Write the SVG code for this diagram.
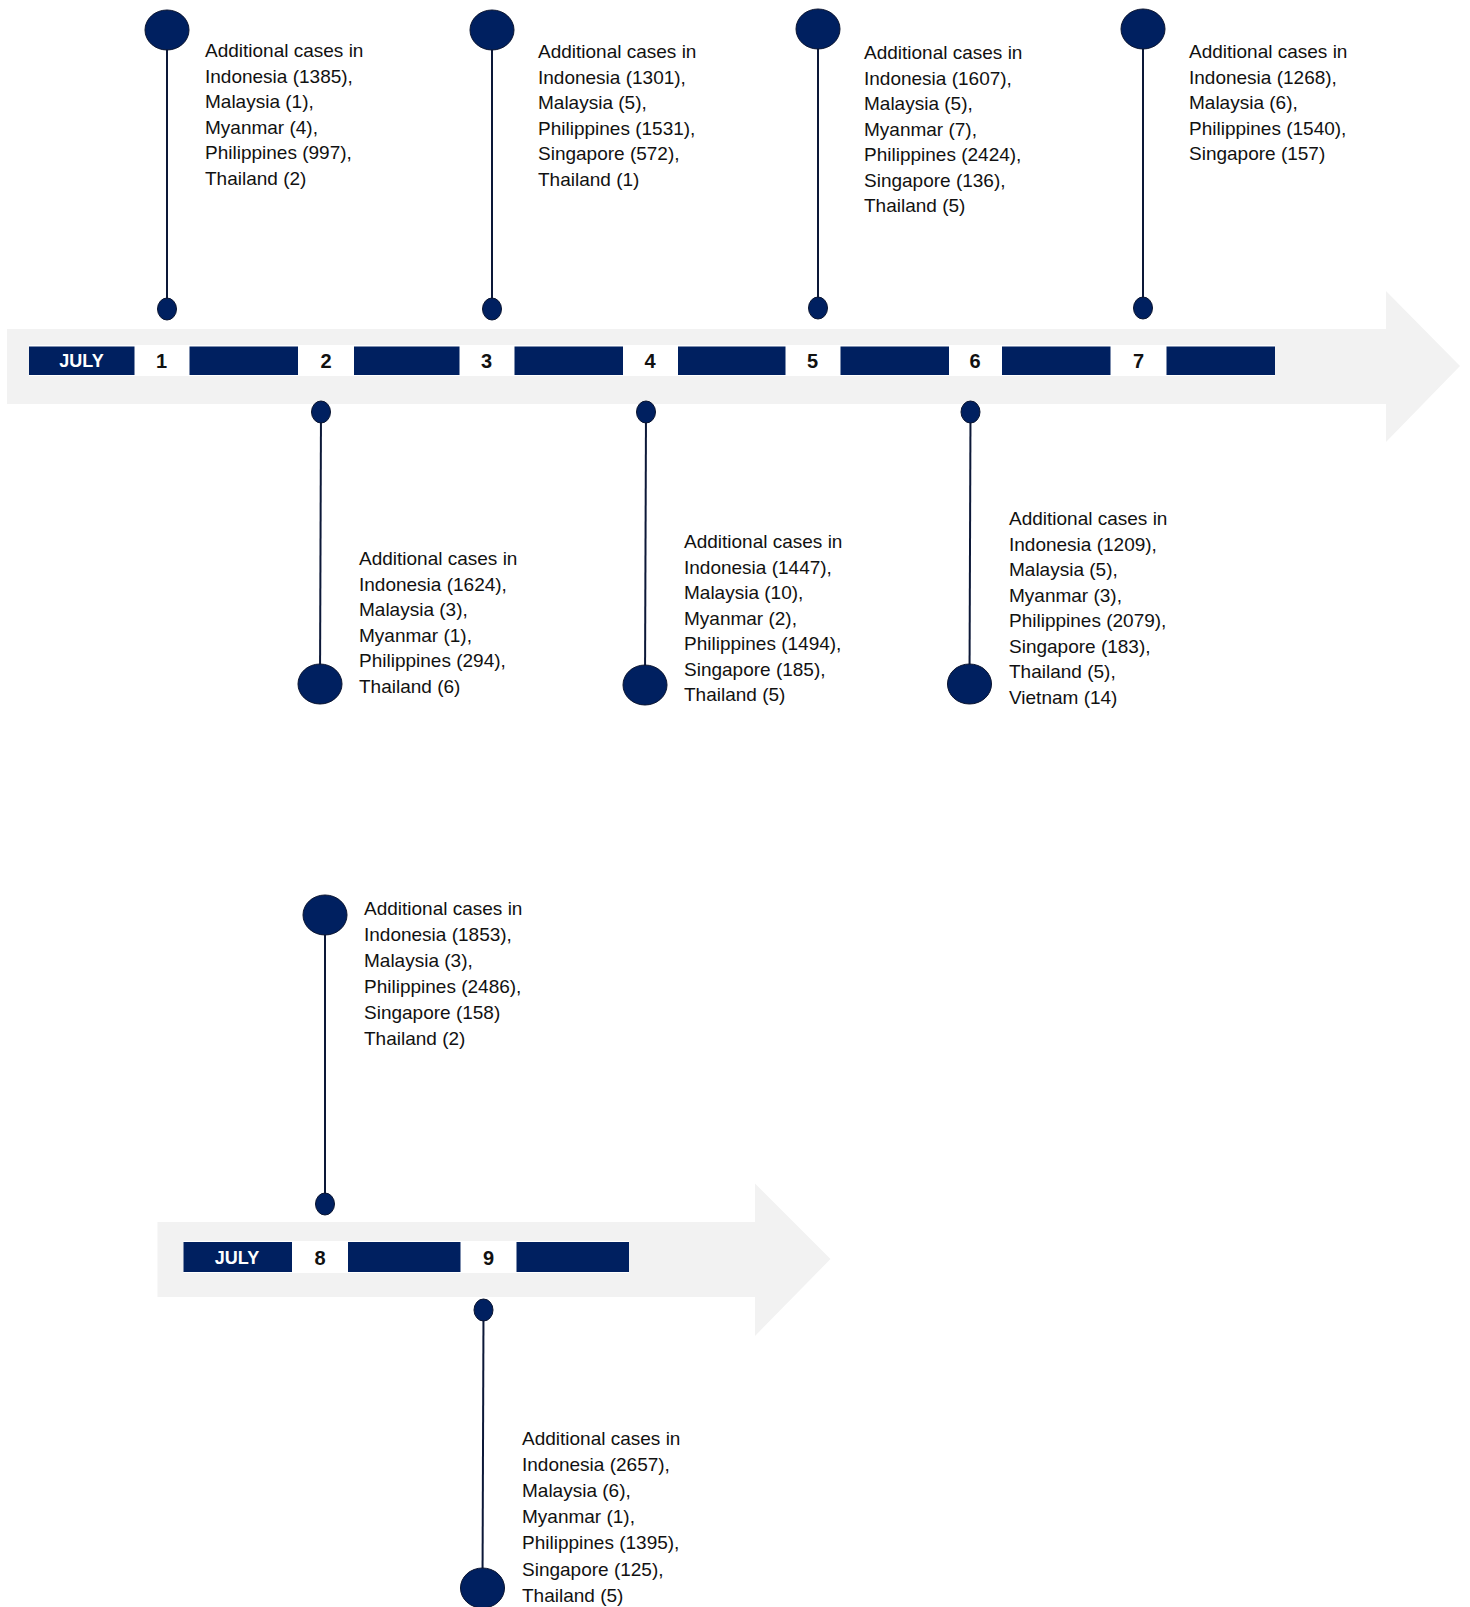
<svg xmlns="http://www.w3.org/2000/svg" width="1470" height="1607" viewBox="0 0 1470 1607">
<style>
.arrow{fill:#f2f2f2}
.cell{fill:#ffffff}
.bar{fill:#002060}
.month{font-family:"Liberation Sans",Arial,sans-serif;font-weight:bold;font-size:18px;fill:#ffffff;text-anchor:middle}
.num{font-family:"Liberation Sans",Arial,sans-serif;font-weight:bold;font-size:20px;fill:#111111;text-anchor:middle}
.stem{stroke:#0c1838;stroke-width:2;fill:none}
.dot{fill:#002060;stroke:#0a1430;stroke-width:1}
.txt{font-family:"Liberation Sans",Arial,sans-serif;font-size:19px;fill:#111111}
</style>
<rect width="1470" height="1607" fill="#ffffff"/>

<g id="timeline-1">
<polygon class="arrow" points="7,329 1386,329 1386,291 1460,366 1386,442 1386,404 7,404"/>
<rect class="cell" x="29" y="345" width="1246" height="31"/>
<rect class="bar" x="29" y="346.5" width="105.5" height="28.5"/>
<text class="month" x="81.5" y="367">JULY</text>
<text class="num" x="161.5" y="368">1</text>
<rect class="bar" x="189.5" y="346.5" width="108.5" height="28.5"/>
<text class="num" x="326" y="368">2</text>
<rect class="bar" x="354" y="346.5" width="105.5" height="28.5"/>
<text class="num" x="486.5" y="368">3</text>
<rect class="bar" x="514.5" y="346.5" width="108.5" height="28.5"/>
<text class="num" x="650" y="368">4</text>
<rect class="bar" x="678" y="346.5" width="107.5" height="28.5"/>
<text class="num" x="812.5" y="368">5</text>
<rect class="bar" x="840.5" y="346.5" width="108.5" height="28.5"/>
<text class="num" x="975" y="368">6</text>
<rect class="bar" x="1002" y="346.5" width="108.5" height="28.5"/>
<text class="num" x="1138.5" y="368">7</text>
<rect class="bar" x="1166.5" y="346.5" width="108.5" height="28.5"/>
</g>

<g id="timeline-2">
<polygon class="arrow" points="157.5,1222 755,1222 755,1183.5 830.5,1259 755,1336 755,1297 157.5,1297"/>
<rect class="cell" x="183.5" y="1241" width="445.5" height="32"/>
<rect class="bar" x="183.5" y="1242" width="108.5" height="30"/>
<text class="month" x="237" y="1264">JULY</text>
<text class="num" x="320" y="1265">8</text>
<rect class="bar" x="348" y="1242" width="112.5" height="30"/>
<text class="num" x="488.5" y="1265">9</text>
<rect class="bar" x="516.5" y="1242" width="112.5" height="30"/>
</g>

<g id="connectors">
<line class="stem" x1="167" y1="30" x2="167" y2="309"/>
<line class="stem" x1="492" y1="30" x2="492" y2="309"/>
<line class="stem" x1="818" y1="29" x2="818" y2="308"/>
<line class="stem" x1="1143" y1="29" x2="1143" y2="308"/>
<line class="stem" x1="321" y1="412" x2="320" y2="684"/>
<line class="stem" x1="646" y1="412" x2="645" y2="685"/>
<line class="stem" x1="970.5" y1="412" x2="969.5" y2="684"/>
<line class="stem" x1="325" y1="915" x2="325" y2="1204"/>
<line class="stem" x1="483.5" y1="1310" x2="482.5" y2="1588"/>
</g>

<g id="pin-jul1">
<ellipse class="dot" cx="167" cy="30" rx="22" ry="20"/>
<ellipse class="dot" cx="167" cy="309" rx="9.5" ry="11"/>
<text class="txt" x="205" y="57"><tspan x="205">Additional cases in</tspan><tspan x="205" dy="25.5">Indonesia (1385),</tspan><tspan x="205" dy="25.5">Malaysia (1),</tspan><tspan x="205" dy="25.5">Myanmar (4),</tspan><tspan x="205" dy="25.5">Philippines (997),</tspan><tspan x="205" dy="25.5">Thailand (2)</tspan></text>
</g>

<g id="pin-jul2">
<ellipse class="dot" cx="321" cy="412" rx="9.5" ry="11"/>
<ellipse class="dot" cx="320" cy="684" rx="22" ry="20"/>
<text class="txt" x="359" y="565"><tspan x="359">Additional cases in</tspan><tspan x="359" dy="25.5">Indonesia (1624),</tspan><tspan x="359" dy="25.5">Malaysia (3),</tspan><tspan x="359" dy="25.5">Myanmar (1),</tspan><tspan x="359" dy="25.5">Philippines (294),</tspan><tspan x="359" dy="25.5">Thailand (6)</tspan></text>
</g>

<g id="pin-jul3">
<ellipse class="dot" cx="492" cy="30" rx="22" ry="20"/>
<ellipse class="dot" cx="492" cy="309" rx="9.5" ry="11"/>
<text class="txt" x="538" y="58"><tspan x="538">Additional cases in</tspan><tspan x="538" dy="25.5">Indonesia (1301),</tspan><tspan x="538" dy="25.5">Malaysia (5),</tspan><tspan x="538" dy="25.5">Philippines (1531),</tspan><tspan x="538" dy="25.5">Singapore (572),</tspan><tspan x="538" dy="25.5">Thailand (1)</tspan></text>
</g>

<g id="pin-jul4">
<ellipse class="dot" cx="646" cy="412" rx="9.5" ry="11"/>
<ellipse class="dot" cx="645" cy="685" rx="22" ry="20"/>
<text class="txt" x="684" y="548"><tspan x="684">Additional cases in</tspan><tspan x="684" dy="25.5">Indonesia (1447),</tspan><tspan x="684" dy="25.5">Malaysia (10),</tspan><tspan x="684" dy="25.5">Myanmar (2),</tspan><tspan x="684" dy="25.5">Philippines (1494),</tspan><tspan x="684" dy="25.5">Singapore (185),</tspan><tspan x="684" dy="25.5">Thailand (5)</tspan></text>
</g>

<g id="pin-jul5">
<ellipse class="dot" cx="818" cy="29" rx="22" ry="20"/>
<ellipse class="dot" cx="818" cy="308" rx="9.5" ry="11"/>
<text class="txt" x="864" y="59"><tspan x="864">Additional cases in</tspan><tspan x="864" dy="25.5">Indonesia (1607),</tspan><tspan x="864" dy="25.5">Malaysia (5),</tspan><tspan x="864" dy="25.5">Myanmar (7),</tspan><tspan x="864" dy="25.5">Philippines (2424),</tspan><tspan x="864" dy="25.5">Singapore (136),</tspan><tspan x="864" dy="25.5">Thailand (5)</tspan></text>
</g>

<g id="pin-jul6">
<ellipse class="dot" cx="970.5" cy="412" rx="9.5" ry="11"/>
<ellipse class="dot" cx="969.5" cy="684" rx="22" ry="20"/>
<text class="txt" x="1009" y="525"><tspan x="1009">Additional cases in</tspan><tspan x="1009" dy="25.5">Indonesia (1209),</tspan><tspan x="1009" dy="25.5">Malaysia (5),</tspan><tspan x="1009" dy="25.5">Myanmar (3),</tspan><tspan x="1009" dy="25.5">Philippines (2079),</tspan><tspan x="1009" dy="25.5">Singapore (183),</tspan><tspan x="1009" dy="25.5">Thailand (5),</tspan><tspan x="1009" dy="25.5">Vietnam (14)</tspan></text>
</g>

<g id="pin-jul7">
<ellipse class="dot" cx="1143" cy="29" rx="22" ry="20"/>
<ellipse class="dot" cx="1143" cy="308" rx="9.5" ry="11"/>
<text class="txt" x="1189" y="58"><tspan x="1189">Additional cases in</tspan><tspan x="1189" dy="25.5">Indonesia (1268),</tspan><tspan x="1189" dy="25.5">Malaysia (6),</tspan><tspan x="1189" dy="25.5">Philippines (1540),</tspan><tspan x="1189" dy="25.5">Singapore (157)</tspan></text>
</g>

<g id="pin-jul8">
<ellipse class="dot" cx="325" cy="915" rx="22" ry="20"/>
<ellipse class="dot" cx="325" cy="1204" rx="9.5" ry="11"/>
<text class="txt" x="364" y="915"><tspan x="364">Additional cases in</tspan><tspan x="364" dy="25.9">Indonesia (1853),</tspan><tspan x="364" dy="25.9">Malaysia (3),</tspan><tspan x="364" dy="25.9">Philippines (2486),</tspan><tspan x="364" dy="25.9">Singapore (158)</tspan><tspan x="364" dy="25.9">Thailand (2)</tspan></text>
</g>

<g id="pin-jul9">
<ellipse class="dot" cx="483.5" cy="1310" rx="9.5" ry="11"/>
<ellipse class="dot" cx="482.5" cy="1588" rx="22" ry="20"/>
<text class="txt" x="522" y="1445"><tspan x="522">Additional cases in</tspan><tspan x="522" dy="26.1">Indonesia (2657),</tspan><tspan x="522" dy="26.1">Malaysia (6),</tspan><tspan x="522" dy="26.1">Myanmar (1),</tspan><tspan x="522" dy="26.1">Philippines (1395),</tspan><tspan x="522" dy="26.1">Singapore (125),</tspan><tspan x="522" dy="26.1">Thailand (5)</tspan></text>
</g>
</svg>
